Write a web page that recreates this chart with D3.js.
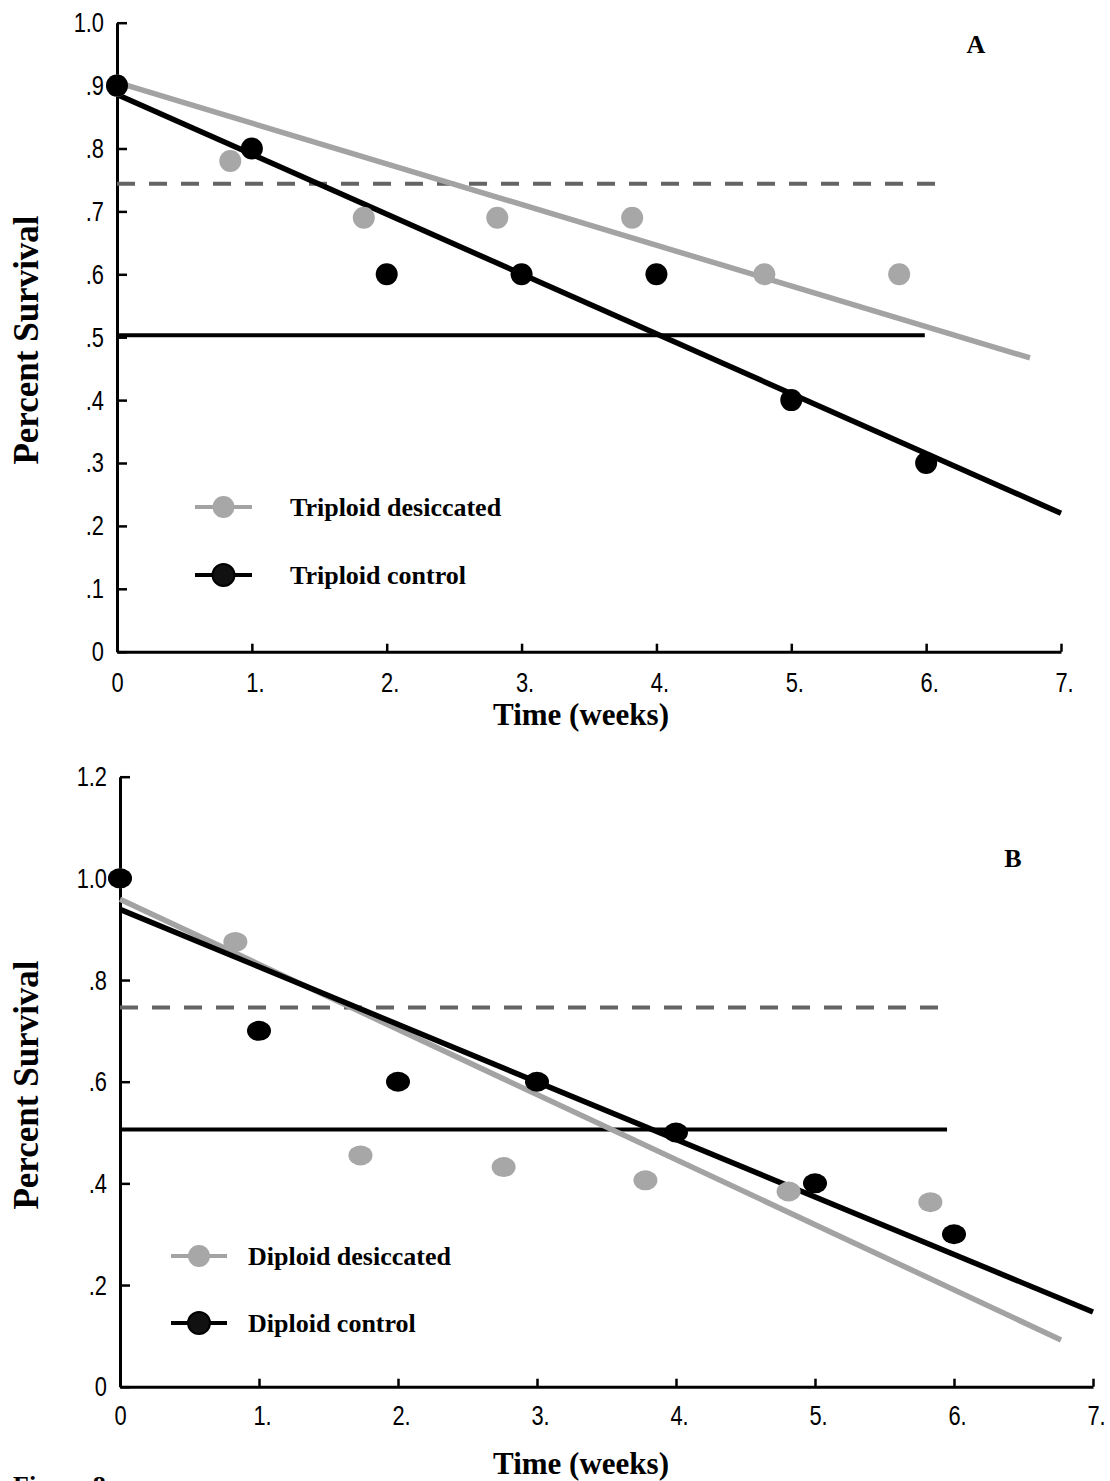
<!DOCTYPE html>
<html>
<head>
<meta charset="utf-8">
<script src="https://cdn.jsdelivr.net/npm/d3@7"></script>
<style>
  html, body { margin: 0; padding: 0; background: #fff; }
  svg { display: block; }
  .tick text { font-family: "Liberation Sans", Arial, sans-serif; font-size: 28px; fill: #000; }
  .serif { font-family: "Liberation Serif", "Times New Roman", serif; font-weight: bold; fill: #000; }
</style>
</head>
<body>
<svg id="fig" width="1110" height="1481"></svg>
<script>
// ---- data ----
const weeks = [0, 1, 2, 3, 4, 5, 6];

// Panel A: triploid oysters
const triploidControl = [0.9, 0.8, 0.6, 0.6, 0.6, 0.4, 0.3];
const triploidDesiccatedWeeks = [0, 0.84, 1.83, 2.82, 3.82, 4.8, 5.8];
const triploidDesiccated = [0.9, 0.78, 0.69, 0.69, 0.69, 0.6, 0.6];
// fitted trend lines: [start week, end week], [start value, end value]
const triploidControlFitX = [0, 7];
const triploidControlFitY = [0.886, 0.22];
const triploidDesiccatedFitX = [0, 6.77];
const triploidDesiccatedFitY = [0.905, 0.467];
// reference levels (dashed / solid) and their extent in weeks
const triploidRefLevels = [0.744, 0.503];
const triploidRefEnds = [6.11, 5.99];

// Panel B: diploid oysters
const diploidControl = [1.0, 0.7, 0.6, 0.6, 0.5, 0.4, 0.3];
const diploidDesiccatedWeeks = [0, 0.83, 1.73, 2.76, 3.78, 4.81, 5.83];
const diploidDesiccated = [1.0, 0.875, 0.455, 0.432, 0.406, 0.384, 0.363];
const diploidControlFitX = [0, 7];
const diploidControlFitY = [0.939, 0.147];
const diploidDesiccatedFitX = [0, 6.77];
const diploidDesiccatedFitY = [0.959, 0.092];
const diploidRefLevels = [0.746, 0.506];
const diploidRefEnds = [5.95, 5.95];

// axis ticks
const xTickValues = [0, 1, 2, 3, 4, 5, 6, 7];
const xTickLabels = ["0", "1.", "2.", "3.", "4.", "5.", "6.", "7."];
const yTickValuesA = [0, 0.1, 0.2, 0.3, 0.4, 0.5, 0.6, 0.7, 0.8, 0.9, 1.0];
const yTickLabelsA = ["0", ".1", ".2", ".3", ".4", ".5", ".6", ".7", ".8", ".9", "1.0"];
const yTickValuesB = [0, 0.2, 0.4, 0.6, 0.8, 1.0, 1.2];
const yTickLabelsB = ["0", ".2", ".4", ".6", ".8", "1.0", "1.2"];

const GRAY_PT = "#a7a7a7";
const GRAY_LN = "#a3a3a3";
const DASH = "#646464";

const svg = d3.select("#fig");

// tick numerals use a condensed face: squeeze each label horizontally
function condense(sel) {
  sel.selectAll(".tick text").each(function () {
    const w = this.getComputedTextLength();
    d3.select(this).attr("textLength", w * 0.78).attr("lengthAdjust", "spacingAndGlyphs");
  });
}

function drawPanel(cfg) {
  const x = d3.scaleLinear().domain([0, 7]).range(cfg.xRange);
  const y = d3.scaleLinear().domain(cfg.yDomain).range(cfg.yRange);
  const g = svg.append("g");

  // x axis
  const xAxis = d3.axisBottom(x)
    .tickValues(xTickValues)
    .tickFormat((d, i) => xTickLabels[i])
    .tickSizeInner(-8).tickSizeOuter(0).tickPadding(cfg.xPad);
  const gx = g.append("g").attr("transform", `translate(0,${cfg.yRange[0]})`).call(xAxis);
  gx.select(".domain").attr("stroke", "#000").attr("stroke-width", 3);
  gx.selectAll(".tick line").attr("stroke", "#000").attr("stroke-width", 2.5);
  gx.selectAll(".tick text").attr("dx", (d, i) => i === 0 ? 0 : 3);
  condense(gx);

  // y axis
  const yAxis = d3.axisLeft(y)
    .tickValues(cfg.yTicks)
    .tickFormat((d, i) => cfg.yLabels[i])
    .tickSizeInner(-10).tickSizeOuter(0).tickPadding(13);
  const gy = g.append("g").attr("transform", `translate(${cfg.xRange[0]},0)`).call(yAxis);
  gy.select(".domain").attr("stroke", "#000").attr("stroke-width", 3);
  gy.selectAll(".tick line").attr("stroke", "#000").attr("stroke-width", 2.5);
  condense(gy);

  // reference levels
  g.append("line")
    .attr("x1", x(0)).attr("x2", x(cfg.refEnds[0]))
    .attr("y1", y(cfg.refLevels[0])).attr("y2", y(cfg.refLevels[0]))
    .attr("stroke", DASH).attr("stroke-width", 4).attr("stroke-dasharray", "18 14");
  g.append("line")
    .attr("x1", x(0)).attr("x2", x(cfg.refEnds[1]))
    .attr("y1", y(cfg.refLevels[1])).attr("y2", y(cfg.refLevels[1]))
    .attr("stroke", "#000").attr("stroke-width", 4);

  // fitted trends
  const line = d3.line().x(d => x(d[0])).y(d => y(d[1]));
  g.append("path")
    .attr("d", line(d3.zip(cfg.desFitX, cfg.desFitY)))
    .attr("stroke", GRAY_LN).attr("stroke-width", 5.5).attr("fill", "none");
  g.append("path")
    .attr("d", line(d3.zip(cfg.ctlFitX, cfg.ctlFitY)))
    .attr("stroke", "#000").attr("stroke-width", 5.5).attr("fill", "none");

  // observations
  g.selectAll(".des").data(d3.zip(cfg.desX, cfg.desY)).join("ellipse")
    .attr("cx", d => x(d[0])).attr("cy", d => y(d[1]))
    .attr("rx", cfg.rx).attr("ry", cfg.ry)
    .attr("fill", GRAY_PT);
  g.selectAll(".ctl").data(d3.zip(weeks, cfg.ctlY)).join("ellipse")
    .attr("cx", d => x(d[0])).attr("cy", d => y(d[1]))
    .attr("rx", cfg.rx).attr("ry", cfg.ry)
    .attr("fill", "#000");

  // legend
  const lg = g.append("g");
  cfg.legend.forEach((item, i) => {
    const ly = cfg.legendY[i];
    lg.append("line")
      .attr("x1", cfg.legendX[0]).attr("x2", cfg.legendX[1])
      .attr("y1", ly).attr("y2", ly)
      .attr("stroke", item.color).attr("stroke-width", 4);
    lg.append("circle")
      .attr("cx", (cfg.legendX[0] + cfg.legendX[1]) / 2).attr("cy", ly)
      .attr("r", 11)
      .attr("fill", item.fill).attr("stroke", item.stroke).attr("stroke-width", item.stroke === "none" ? 0 : 2);
    lg.append("text").attr("class", "serif")
      .attr("x", cfg.legendTextX).attr("y", ly + 9)
      .style("font-size", "26px")
      .text(item.label);
  });

  // panel letter
  g.append("text").attr("class", "serif")
    .attr("x", cfg.letterPos[0]).attr("y", cfg.letterPos[1])
    .attr("text-anchor", "middle").style("font-size", "26px")
    .text(cfg.letter);

  // axis titles
  g.append("text").attr("class", "serif")
    .attr("x", cfg.xTitlePos[0]).attr("y", cfg.xTitlePos[1])
    .attr("text-anchor", "middle").style("font-size", "31px")
    .text("Time (weeks)");
  g.append("text").attr("class", "serif")
    .attr("transform", `translate(${cfg.yTitlePos[0]},${cfg.yTitlePos[1]}) rotate(-90)`)
    .attr("text-anchor", "middle").style("font-size", "35px")
    .text("Percent Survival");
}

drawPanel({
  xRange: [117, 1061], yDomain: [0, 1], yRange: [651.7, 22.7],
  yTicks: yTickValuesA, yLabels: yTickLabelsA, xPad: 20,
  ctlY: triploidControl, desX: triploidDesiccatedWeeks, desY: triploidDesiccated,
  ctlFitX: triploidControlFitX, ctlFitY: triploidControlFitY,
  desFitX: triploidDesiccatedFitX, desFitY: triploidDesiccatedFitY,
  refLevels: triploidRefLevels, refEnds: triploidRefEnds,
  rx: 11, ry: 11,
  legend: [
    { label: "Triploid desiccated", color: GRAY_LN, fill: GRAY_PT, stroke: "none" },
    { label: "Triploid control", color: "#000", fill: "#111", stroke: "#000" }
  ],
  legendX: [195, 252], legendY: [507, 575], legendTextX: 290,
  letter: "A", letterPos: [976, 53],
  xTitlePos: [581, 725], yTitlePos: [38, 340]
});

drawPanel({
  xRange: [120, 1093], yDomain: [0, 1.2], yRange: [1386.7, 776.7],
  yTicks: yTickValuesB, yLabels: yTickLabelsB, xPad: 18,
  ctlY: diploidControl, desX: diploidDesiccatedWeeks, desY: diploidDesiccated,
  ctlFitX: diploidControlFitX, ctlFitY: diploidControlFitY,
  desFitX: diploidDesiccatedFitX, desFitY: diploidDesiccatedFitY,
  refLevels: diploidRefLevels, refEnds: diploidRefEnds,
  rx: 12, ry: 10,
  legend: [
    { label: "Diploid desiccated", color: GRAY_LN, fill: GRAY_PT, stroke: "none" },
    { label: "Diploid control", color: "#000", fill: "#111", stroke: "#000" }
  ],
  legendX: [171, 227], legendY: [1256, 1323], legendTextX: 248,
  letter: "B", letterPos: [1013, 867],
  xTitlePos: [581, 1474], yTitlePos: [38, 1085]
});

// figure caption, running off the bottom edge
svg.append("text").attr("class", "serif")
  .attr("x", 13).attr("y", 1494).style("font-size", "26px")
  .text("Figure 8");
</script>
</body>
</html>
